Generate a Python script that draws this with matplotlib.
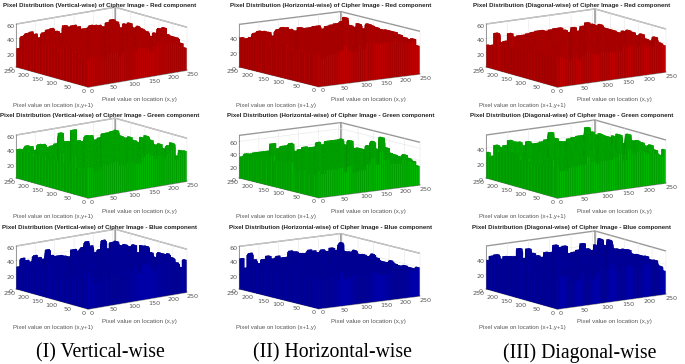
import numpy as np
import matplotlib
matplotlib.use('Agg')
import matplotlib.pyplot as plt
from matplotlib.colors import LightSource
from mpl_toolkits.mplot3d import proj3d

# heights of the back skyline, read left corner -> right corner, per panel
red_vertical = [26,42,45,46,42,36,42,45,46,41,37,47,44,45,42,38,38,41,40,39,36,41,44,41,34,41,44,39,43,41,39,34,40,48,51,43,42,42,36,31]
red_horizontal = [40,38,39,44,46,45,43,37,45,47,46,43,40,44,42,42,43,43,38,41,42,43,45,52,43,42,48,43,51,50,49,48,49,49,49,47,45,44,46,38]
red_diagonal = [31,30,46,32,33,43,37,38,38,39,40,41,41,39,40,41,41,37,33,39,33,39,43,40,38,41,38,38,38,37,41,44,43,40,44,39,38,45,39,37]
green_vertical = [40,39,43,41,35,42,41,36,37,39,53,40,39,54,38,36,43,42,35,37,42,42,43,44,38,37,40,37,36,44,48,44,39,42,37,43,48,32,41,42]
green_horizontal = [35,39,38,39,39,39,39,50,41,44,44,47,33,35,38,36,36,43,38,43,43,43,44,36,45,34,36,36,44,53,42,63,48,41,40,39,44,40,37,31]
green_diagonal = [35,29,43,39,41,47,44,43,37,42,38,38,39,41,50,41,36,35,38,39,40,40,50,43,39,42,41,41,44,48,38,52,45,47,46,43,46,41,36,45]
blue_vertical = [31,42,38,35,43,39,36,48,39,37,37,35,33,42,39,43,50,43,33,36,48,35,43,44,40,43,42,46,37,48,49,42,37,45,45,47,43,38,33,45]
blue_horizontal = [43,29,49,39,33,38,42,37,40,37,37,45,43,40,39,43,41,38,41,38,42,38,48,37,38,42,38,39,38,43,39,36,36,40,37,36,38,37,37,40]
blue_diagonal = [39,44,45,38,41,40,39,49,35,47,40,36,33,39,38,47,43,44,33,34,36,44,36,33,40,50,43,52,42,43,45,46,42,43,43,44,41,42,36,31]

skylines = [[red_vertical, red_horizontal, red_diagonal],
            [green_vertical, green_horizontal, green_diagonal],
            [blue_vertical, blue_horizontal, blue_diagonal]]
colors = ['#e00000', '#00d800', '#0000c8']
edge_colors = ['#b80000', '#00a800', '#0000a0']
names = ['Red', 'Green', 'Blue']
modes = ['Vertical', 'Horizontal', 'Diagonal']
ylabels = ['Pixel value on location (x,y+1)', 'Pixel value on location (x+1,y)', 'Pixel value on location (x+1,y+1)']
captions = ['(I) Vertical-wise', '(II) Horizontal-wise', '(III) Diagonal-wise']
xy_ticks = [0, 50, 100, 150, 200, 250]
z_limits = [[60, 58, 60], [60, 70, 58], [60, 60, 58]]
z_ticks = [[[0,20,40,60], [0,20,40], [0,20,40,60]],
           [[0,20,40,60], [0,20,40,60], [0,20,40]],
           [[0,20,40,60], [0,20,40,60], [0,20,40]]]

# pixel spots in the reference: left corner x,y and right corner x per panel
left_x = [16, 239, 486]
right_x = [187, 420, 666]
left_y = [67, 178, 289]
azims = [-128, -125.4, -125]
elevs = [12.6, 10.2, 11.4]
len_x = [126, 126, 133]
len_y = [117, 138, 124]
title_x = [100, 331, 572]
title_y = [5, 116, 227]
xlabel_dx = [86, 92, 91]
ylabel_dx = [-3, -3, -7]

W, H = 685, 364
n = 48
edges = np.linspace(0, 256, n + 1)[:-1]
bin_w = edges[1] - edges[0]
bar_w = 0.7 * bin_w

fig = plt.figure(figsize=(W / 100, H / 100), dpi=100)


def corner(ax, x, y, z):
    a, b, _ = proj3d.proj_transform(x, y, z, ax.get_proj())
    return ax.transData.transform((a, b))


for r in range(3):
    for c in range(3):
        # big square axes, so the bars are not clipped by the axes box
        ax = fig.add_axes([0.1, 0.1, 260 / W, 260 / H], projection='3d')
        ax.set_proj_type('ortho')
        ax.view_init(elev=elevs[c], azim=azims[c])

        # each bar takes the skyline height of the screen column it falls in
        sky = np.array(skylines[r][c])
        xx, yy = np.meshgrid(edges, edges, indexing='ij')
        xx, yy = xx.ravel(), yy.ravel()
        sa, ca = -np.sin(np.radians(azims[c])), np.cos(np.radians(azims[c]))
        col = (xx + bin_w / 2) * sa * len_x[c] + (yy + bin_w / 2) * ca * len_y[c]
        idx = np.round((col - col.min()) / (col.max() - col.min()) * (len(sky) - 1)).astype(int)
        ax.bar3d(xx + 0.15 * bin_w, yy + 0.15 * bin_w, 0 * xx, bar_w, bar_w, sky[idx], color=colors[r], shade=True,
                 lightsource=LightSource(azdeg=90 - azims[c], altdeg=45),
                 edgecolor=edge_colors[r], linewidth=0.03)
        ax.set_xlim(0, 256)
        ax.set_ylim(0, 256)
        ax.set_zlim(0, z_limits[r][c])

        for axis in (ax.xaxis, ax.yaxis, ax.zaxis):
            axis.set_pane_color((1, 1, 1, 1))
            axis.pane.set_edgecolor('#999999')
            axis.line.set_color('#888888')
            axis.line.set_linewidth(0.6)
            axis._axinfo['grid']['color'] = '#e6e6e6'
            axis._axinfo['grid']['linewidth'] = 0.4
            axis._axinfo['tick']['inward_factor'] = 0.0
            axis._axinfo['tick']['outward_factor'] = 0.05
            axis._axinfo['tick']['linewidth'] = {True: 0.3, False: 0.3}
            axis._axinfo['tick']['color'] = '#888888'
        ax.set_xticks(xy_ticks)
        ax.set_yticks(xy_ticks)
        ax.set_zticks(z_ticks[r][c])
        ax.tick_params(axis='both', labelsize=4.6, colors='#555555', pad=-5.5)
        ax.tick_params(axis='z', labelsize=4.6, colors='#555555', pad=-5)
        ax.zaxis.set_ticks_position('upper')
        ax.patch.set_alpha(0)
        for t in ax.xaxis.get_major_ticks():
            t.label1.set_ha('left')
        for t in ax.yaxis.get_major_ticks():
            t.label1.set_ha('right')

        # fit the box to the reference pixels
        want_w = right_x[c] - left_x[c]
        hz = 43 / np.cos(np.radians(elevs[c]))
        zoom = 1.0
        for i in range(3):
            ax.set_box_aspect((len_x[c], len_y[c], hz), zoom=zoom)
            ax.apply_aspect()
            p0 = corner(ax, 0, 256, 0)
            p1 = corner(ax, 256, 0, 0)
            zoom *= want_w / (p1[0] - p0[0])
        ax.set_box_aspect((len_x[c], len_y[c], hz), zoom=zoom)
        p0 = corner(ax, 0, 256, 0)
        pos = ax.get_position()
        dx = (left_x[c] - p0[0]) / W
        dy = ((H - left_y[r]) - p0[1]) / H
        ax.set_position([pos.x0 + dx, pos.y0 + dy, pos.width, pos.height])

        fig.text(title_x[c] / W, 1 - title_y[r] / H,
                 'Pixel Distribution (%s-wise) of Cipher Image - %s component' % (modes[c], names[r]),
                 fontsize=4.45, fontweight='bold', family='Liberation Sans', ha='center', va='center', color='#222222', zorder=20)
        fig.text((left_x[c] + xlabel_dx[c]) / W, 1 - (left_y[r] + 33) / H, 'Pixel value on location (x,y)',
                 fontsize=4.4, family='Liberation Sans', ha='left', va='center', color='#555555', zorder=20)
        fig.text((left_x[c] + ylabel_dx[c]) / W, 1 - (left_y[r] + 38.5) / H, ylabels[c],
                 fontsize=4.35, family='Liberation Sans', ha='left', va='center', color='#555555', zorder=20)

cap_x = [100, 332, 580]
for c in range(3):
    fig.text(cap_x[c] / W, 1 - 353 / H, captions[c], fontsize=14.2, family='Liberation Serif',
             ha='center', va='center', color='black', zorder=20)

fig.savefig('out.png', dpi=100)
